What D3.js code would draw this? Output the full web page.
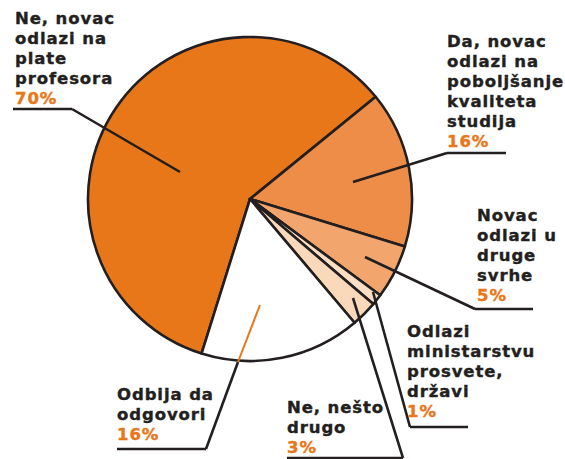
<!DOCTYPE html>
<html>
<head>
<meta charset="utf-8">
<script src="https://cdn.jsdelivr.net/npm/d3@7"></script>
<style>
  html, body { margin: 0; padding: 0; background: #fff; }
  text { font-family: "DejaVu Sans", sans-serif; font-weight: bold; font-size: 16.5px; letter-spacing: 0.9px; }
</style>
</head>
<body>
<div id="chart"></div>
<script>
// slice sizes as drawn in the picture (the printed percentages do not add to 100)
var shares = [59.3, 15.6, 5.4, 1.1, 2.6, 16.0];
var pctLabels = ['70%', '16%', '5%', '1%', '3%', '16%'];
var labelLines = [
  ['Ne, novac', 'odlazi na', 'plate', 'profesora'],
  ['Da, novac', 'odlazi na', 'poboljšanje', 'kvaliteta', 'studija'],
  ['Novac', 'odlazi u', 'druge', 'svrhe'],
  ['Odlazi', 'ministarstvu', 'prosvete,', 'državi'],
  ['Ne, nešto', 'drugo'],
  ['Odbija da', 'odgovori']
];
var fills = ['#E8771A', '#EE8D48', '#F2A66E', '#FBDEC3', '#FAD9BA', '#FFFFFF'];

var width = 565, height = 459;
var cx = 250, cy = 199, radius = 162;
var ink = '#231F20', accent = '#E8771A';
var lineH = 20;

// label placement: text x, first baseline, underline y, underline x range,
// joint = which end of the underline the leader leaves from, inner = leader tip (dx, dy from centre)
var layout = [
  {x: 15, y: 24, uy: 109, ux: [13, 72], joint: 72, inner: [-70, -27]},
  {x: 447, y: 47, uy: 153, ux: [447, 506], joint: 447, inner: [103, -17]},
  {x: 477, y: 221, uy: 309, ux: [475, 533], joint: 475, inner: [115, 58]},
  {x: 407, y: 337, uy: 427, ux: [410, 468], joint: 410, inner: [123, 93]},
  {x: 287, y: 413, uy: 458, ux: [287, 403], joint: 403, inner: [103, 99]},
  {x: 117, y: 400, uy: 449, ux: [117, 206], joint: 206, inner: [10, 106], rim: [-12, 163]}
];

var svg = d3.select('#chart').append('svg')
  .attr('width', width).attr('height', height);

var start = 197.4 * Math.PI / 180;
var pie = d3.pie().sort(null).value(d => d)
  .startAngle(start).endAngle(start + 2 * Math.PI);
var arc = d3.arc().innerRadius(0).outerRadius(radius);

var g = svg.append('g').attr('transform', 'translate(' + [cx, cy] + ')');

g.selectAll('path.slice')
  .data(pie(shares))
  .enter().append('path')
  .attr('class', 'slice')
  .attr('d', arc)
  .attr('fill', (d, i) => fills[i])
  .attr('stroke', ink)
  .attr('stroke-width', 2.6)
  .attr('stroke-linejoin', 'round');

// leader lines
layout.forEach((l, i) => {
  var tip = [cx + l.inner[0], cy + l.inner[1]];
  svg.append('line')
    .attr('x1', l.ux[0]).attr('x2', l.ux[1])
    .attr('y1', l.uy).attr('y2', l.uy)
    .attr('stroke', ink).attr('stroke-width', 2.6);
  if (l.rim) {
    // white slice: black part outside the pie, orange part inside
    var rim = [cx + l.rim[0], cy + l.rim[1]];
    svg.append('line')
      .attr('x1', l.joint).attr('y1', l.uy)
      .attr('x2', rim[0]).attr('y2', rim[1])
      .attr('stroke', ink).attr('stroke-width', 2.6);
    svg.append('line')
      .attr('x1', rim[0]).attr('y1', rim[1])
      .attr('x2', tip[0]).attr('y2', tip[1])
      .attr('stroke', accent).attr('stroke-width', 2);
  } else {
    svg.append('line')
      .attr('x1', l.joint).attr('y1', l.uy)
      .attr('x2', tip[0]).attr('y2', tip[1])
      .attr('stroke', ink).attr('stroke-width', 2.6);
  }
});

// labels
layout.forEach((l, i) => {
  var t = svg.append('text').attr('x', l.x).attr('y', l.y);
  labelLines[i].forEach((s, j) => {
    t.append('tspan').attr('x', l.x).attr('y', l.y + j * lineH)
      .attr('fill', ink).attr('stroke', ink).attr('stroke-width', 0.4).text(s);
  });
  t.append('tspan').attr('x', l.x).attr('y', l.y + labelLines[i].length * lineH)
    .attr('fill', accent).attr('stroke', accent).attr('stroke-width', 0.4).text(pctLabels[i]);
});
</script>
</body>
</html>
